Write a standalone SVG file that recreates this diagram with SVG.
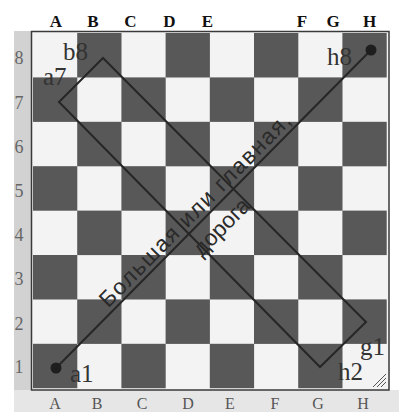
<svg xmlns="http://www.w3.org/2000/svg" width="399" height="412" viewBox="0 0 399 412">
<style>
.d{fill:#585858}
.top{font-family:"Liberation Serif",serif;font-weight:bold;font-size:17px;fill:#111;text-anchor:middle}
.bot{font-family:"Liberation Serif",serif;font-size:16px;fill:#555;text-anchor:middle}
.num{font-family:"Liberation Serif",serif;font-size:18px;fill:#666;text-anchor:middle}
.lab{font-family:"Liberation Serif",serif;font-size:25px;fill:#333}
.road{font-family:"Liberation Sans",Arial,sans-serif;font-size:22.5px;fill:#2a2a2a;text-anchor:middle}
.ln{stroke:#262626;stroke-width:2;fill:none}
</style>
<rect x="0" y="0" width="399" height="412" fill="#ffffff"/>
<rect x="14" y="31" width="18" height="381" fill="#d2d2d2"/>
<rect x="14" y="390" width="385" height="22" fill="#e6e6e6"/>
<g id="labels-top">
<text class="top" x="56" y="27">A</text>
<text class="top" x="93" y="27">B</text>
<text class="top" x="130.5" y="27">C</text>
<text class="top" x="169.5" y="27">D</text>
<text class="top" x="207.5" y="27">E</text>
<text class="top" x="302" y="27">F</text>
<text class="top" x="333" y="27">G</text>
<text class="top" x="369.5" y="27">H</text>
</g>
<g id="board">
<rect x="31.5" y="31.5" width="357.5" height="358.5" fill="#f3f3f3" stroke="#3a3a3a" stroke-width="1.5"/>
<rect class="d" x="77.2" y="33" width="44.3" height="44.5"/>
<rect class="d" x="165.6" y="33" width="44.3" height="44.5"/>
<rect class="d" x="254" y="33" width="44.3" height="44.5"/>
<rect class="d" x="342.4" y="33" width="44.3" height="44.5"/>
<rect class="d" x="33" y="77.4" width="44.3" height="44.5"/>
<rect class="d" x="121.4" y="77.4" width="44.3" height="44.5"/>
<rect class="d" x="209.8" y="77.4" width="44.3" height="44.5"/>
<rect class="d" x="298.2" y="77.4" width="44.3" height="44.5"/>
<rect class="d" x="77.2" y="121.8" width="44.3" height="44.5"/>
<rect class="d" x="165.6" y="121.8" width="44.3" height="44.5"/>
<rect class="d" x="254" y="121.8" width="44.3" height="44.5"/>
<rect class="d" x="342.4" y="121.8" width="44.3" height="44.5"/>
<rect class="d" x="33" y="166.2" width="44.3" height="44.5"/>
<rect class="d" x="121.4" y="166.2" width="44.3" height="44.5"/>
<rect class="d" x="209.8" y="166.2" width="44.3" height="44.5"/>
<rect class="d" x="298.2" y="166.2" width="44.3" height="44.5"/>
<rect class="d" x="77.2" y="210.6" width="44.3" height="44.5"/>
<rect class="d" x="165.6" y="210.6" width="44.3" height="44.5"/>
<rect class="d" x="254" y="210.6" width="44.3" height="44.5"/>
<rect class="d" x="342.4" y="210.6" width="44.3" height="44.5"/>
<rect class="d" x="33" y="255" width="44.3" height="44.5"/>
<rect class="d" x="121.4" y="255" width="44.3" height="44.5"/>
<rect class="d" x="209.8" y="255" width="44.3" height="44.5"/>
<rect class="d" x="298.2" y="255" width="44.3" height="44.5"/>
<rect class="d" x="77.2" y="299.4" width="44.3" height="44.5"/>
<rect class="d" x="165.6" y="299.4" width="44.3" height="44.5"/>
<rect class="d" x="254" y="299.4" width="44.3" height="44.5"/>
<rect class="d" x="342.4" y="299.4" width="44.3" height="44.5"/>
<rect class="d" x="33" y="343.8" width="44.3" height="44.4"/>
<rect class="d" x="121.4" y="343.8" width="44.3" height="44.4"/>
<rect class="d" x="209.8" y="343.8" width="44.3" height="44.4"/>
<rect class="d" x="298.2" y="343.8" width="44.3" height="44.4"/>
<g stroke="#555" stroke-width="1">
<line x1="373" y1="387" x2="386" y2="374"/>
<line x1="377" y1="387" x2="386" y2="378"/>
<line x1="381" y1="387" x2="386" y2="382"/>
</g>
</g>
<g id="labels-left">
<text class="num" x="19" y="64">8</text>
<text class="num" x="19" y="109">7</text>
<text class="num" x="19" y="153">6</text>
<text class="num" x="19" y="197">5</text>
<text class="num" x="19" y="241">4</text>
<text class="num" x="19" y="285">3</text>
<text class="num" x="19" y="330">2</text>
<text class="num" x="19" y="373">1</text>
</g>
<g id="labels-bottom">
<text class="bot" x="55" y="409">A</text>
<text class="bot" x="97" y="409">B</text>
<text class="bot" x="142" y="409">C</text>
<text class="bot" x="188" y="409">D</text>
<text class="bot" x="230" y="409">E</text>
<text class="bot" x="275" y="409">F</text>
<text class="bot" x="318" y="409">G</text>
<text class="bot" x="363" y="409">H</text>
</g>
<g id="connectors">
<line class="ln" x1="56" y1="368" x2="371" y2="50"/>
<polygon class="ln" points="103,58 366,322 320,367 59,102"/>
<circle cx="56" cy="368" r="5.5" fill="#1e1e1e"/>
<circle cx="371" cy="50" r="5.5" fill="#1e1e1e"/>
</g>
<g id="square-labels">
<text class="lab" x="63" y="60">b8</text>
<text class="lab" x="43" y="85">a7</text>
<text class="lab" x="327" y="65">h8</text>
<text class="lab" x="70" y="382">a1</text>
<text class="lab" x="360" y="355">g1</text>
<text class="lab" x="338" y="380">h2</text>
</g>
<g id="road-label">
<text class="road" transform="translate(200.3,215.3) rotate(-45.36)" textLength="262" lengthAdjust="spacing">Большая или главная,</text>
<text class="road" transform="translate(226.7,232.2) rotate(-45.36)">дорога</text>
</g>
</svg>
